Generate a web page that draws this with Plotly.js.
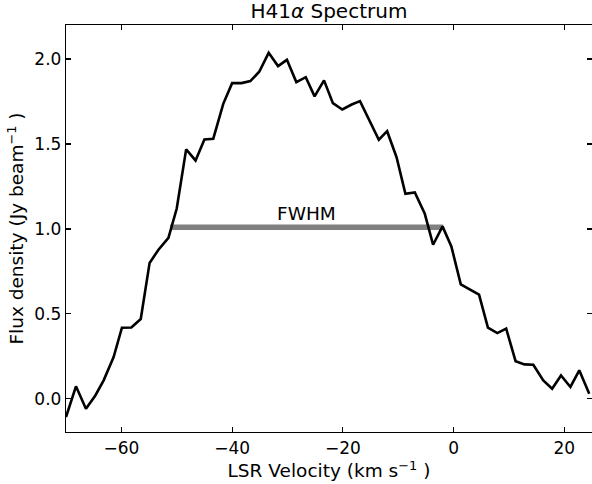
<!DOCTYPE html>
<html>
<head>
<meta charset="utf-8">
<script src="https://cdn.plot.ly/plotly-3.0.1.min.js"></script>
<style>html,body{margin:0;padding:0;background:#fff;}#chart{width:592px;height:484px;}</style>
</head>
<body>
<div id="chart"></div>
<script>
var velocity = [-70.0, -68.2, -66.4, -64.7, -63.2, -61.4, -59.9, -58.2, -56.5, -54.9, -53.3, -51.5, -50.0, -48.3, -46.6, -45.0, -43.4, -41.6, -40.0, -38.3, -36.7, -35.1, -33.4, -31.7, -30.1, -28.4, -26.7, -25.1, -23.4, -21.8, -20.1, -18.4, -16.9, -15.1, -13.5, -12.0, -10.3, -8.7, -7.0, -5.2, -3.7, -2.0, -0.4, 1.3, 2.9, 4.6, 6.2, 7.9, 9.5, 11.2, 12.8, 14.4, 16.2, 17.8, 19.4, 21.1, 22.7, 24.5];
var flux = [-0.107, 0.074, -0.058, 0.02, 0.109, 0.246, 0.419, 0.42, 0.47, 0.80, 0.878, 0.948, 1.12, 1.468, 1.403, 1.526, 1.531, 1.736, 1.858, 1.858, 1.87, 1.925, 2.036, 1.958, 1.995, 1.864, 1.893, 1.78, 1.874, 1.74, 1.703, 1.732, 1.752, 1.628, 1.525, 1.575, 1.422, 1.207, 1.215, 1.089, 0.907, 1.015, 0.897, 0.674, 0.642, 0.613, 0.419, 0.387, 0.413, 0.222, 0.203, 0.201, 0.109, 0.06, 0.138, 0.07, 0.168, 0.03];
var fwhmRange = [-51.2, -1.9];
var fwhmLevel = 1.01;
var fwhmLabel = "FWHM";
var fwhmLabelPos = [-26.6, 1.093];
var xTicks = [-60, -40, -20, 0, 20];
var yTicks = [0.0, 0.5, 1.0, 1.5, 2.0];

var font = "DejaVu Sans, sans-serif";
var traces = [
  {x: fwhmRange, y: [fwhmLevel, fwhmLevel], mode: "lines", line: {color: "#808080", width: 5.3}, hoverinfo: "skip"},
  {x: velocity, y: flux, mode: "lines", line: {color: "#000000", width: 2.6}}
];
var axisCommon = {
  showline: true, linecolor: "#000", linewidth: 1.2, mirror: "ticks",
  ticks: "inside", ticklen: 5, tickwidth: 1.2, tickcolor: "#000",
  showgrid: false, zeroline: false,
  tickfont: {family: font, size: 17, color: "#000"}
};
var layout = {
  width: 592, height: 484,
  margin: {l: 66, r: 0, t: 25, b: 52},
  paper_bgcolor: "#fff", plot_bgcolor: "#fff",
  showlegend: false,
  font: {family: font, color: "#000"},
  title: {text: "H41<i>α</i> Spectrum", font: {family: font, size: 20, color: "#000"}, x: 0.5556, xanchor: "center", y: 0.978, yanchor: "middle", yref: "container"},
  xaxis: Object.assign({}, axisCommon, {
    range: [-70, 25], tickvals: xTicks,
    title: {text: "LSR Velocity (km s<sup>−1</sup> )", font: {family: font, size: 18.5, color: "#000"}, standoff: 2}
  }),
  yaxis: Object.assign({}, axisCommon, {
    range: [-0.195, 2.2], tickvals: yTicks, tickformat: ".1f",
    title: {text: "Flux density (Jy beam<sup>−1</sup> )", font: {family: font, size: 18.5, color: "#000"}, standoff: 5}
  }),
  annotations: [
    {x: fwhmLabelPos[0], y: fwhmLabelPos[1], xref: "x", yref: "y", text: fwhmLabel, showarrow: false, font: {family: font, size: 18.5, color: "#000"}, xanchor: "center", yanchor: "middle"}
  ]
};
Plotly.newPlot("chart", traces, layout, {staticPlot: true, displayModeBar: false});
</script>
</body>
</html>
